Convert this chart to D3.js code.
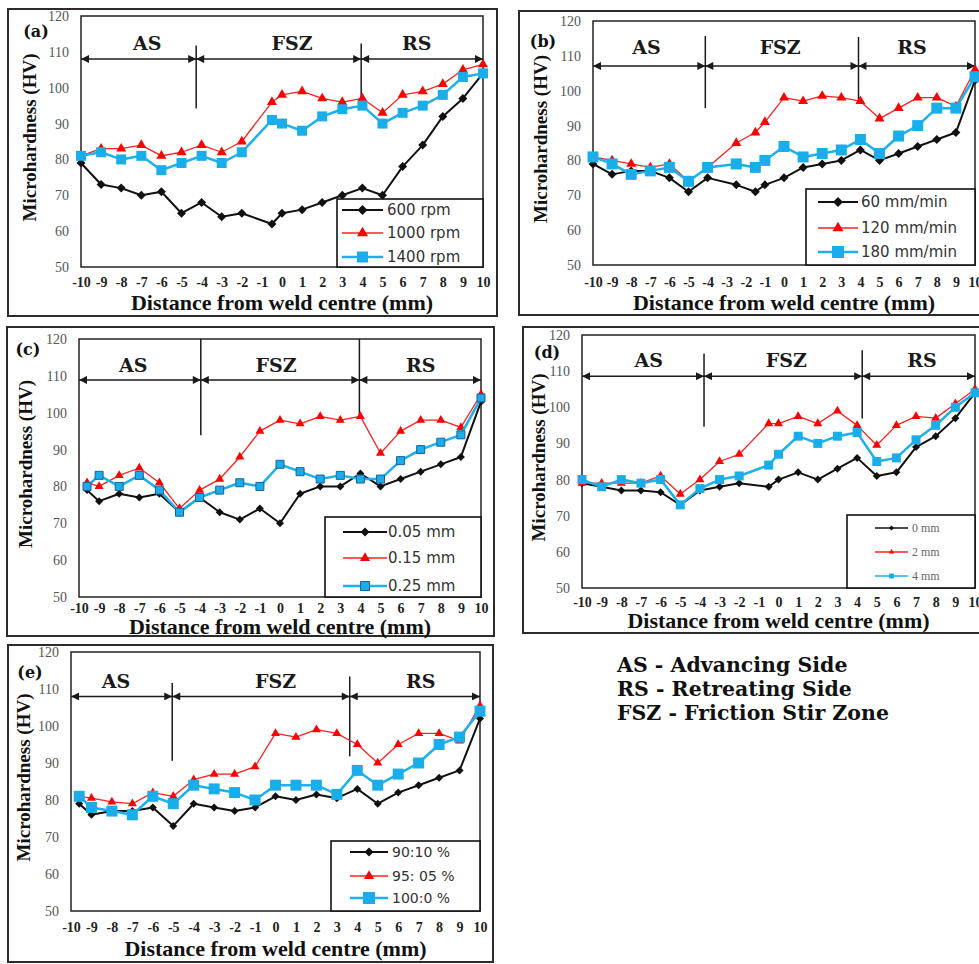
<!DOCTYPE html>
<html>
<head>
<meta charset="utf-8">
<script src="https://cdn.jsdelivr.net/npm/d3@7"></script>
<style>
  body { margin: 0; background: #fff; }
</style>
</head>
<body>
<svg id="fig" width="979" height="964"></svg>
<script>
// ---- data ----
const xTickLabels = [-10, -9, -8, -7, -6, -5, -4, -3, -2, -1, 0, 1, 2, 3, 4, 5, 6, 7, 8, 9, 10];
const yTickLabels = [50, 60, 70, 80, 90, 100, 110, 120];
const zoneNames = ['AS', 'FSZ', 'RS'];
const notes = ['AS - Advancing Side', 'RS - Retreating Side', 'FSZ - Friction Stir Zone'];

// (a) rotational speed
const xA = [-10, -9, -8, -7, -6, -5, -4, -3, -2, -0.5, 0, 1, 2, 3, 4, 5, 6, 7, 8, 9, 10];
const a600 = [79, 73, 72, 70, 71, 65, 68, 64, 65, 62, 65, 66, 68, 70, 72, 70, 78, 84, 92, 97, 104];
const a1000 = [81, 83, 83, 84, 81, 82, 84, 82, 85, 96, 98, 99, 97, 96, 97, 93, 98, 99, 101, 105, 106.5];
const a1400 = [81, 82, 80, 81, 77, 79, 81, 79, 82, 91, 90, 88, 92, 94, 95, 90, 93, 95, 98, 103, 104];

// (b) welding speed
const xB = [-10, -9, -8, -7, -6, -5, -4, -2.5, -1.5, -1, 0, 1, 2, 3, 4, 5, 6, 7, 8, 9, 10];
const b60 = [79, 76, 77, 77, 75, 71, 75, 73, 71, 73, 75, 78, 79, 80, 83, 80, 82, 84, 86, 88, 103];
const b120 = [81, 80, 79, 78, 79, 74, 78, 85, 88, 91, 98, 97, 98.5, 98, 97, 92, 95, 98, 98, 95.5, 106];
const b180 = [81, 79, 76, 77, 78, 74, 78, 79, 78, 80, 84, 81, 82, 83, 86, 82, 87, 90, 95, 95, 104];

// (c) plunge depth
const xC = [-9.6, -9, -8, -7, -6, -5, -4, -3, -2, -1, 0, 1, 2, 3, 4, 5, 6, 7, 8, 9, 10];
const c005 = [79, 76, 78, 77, 78, 73, 77, 73, 71, 74, 70, 78, 80, 80, 83.5, 80, 82, 84, 86, 88, 103];
const c015 = [81, 80, 83, 85, 81, 74, 79, 82, 88, 95, 98, 97, 99, 98, 99, 89, 95, 98, 98, 96, 105];
const c025 = [80, 83, 80, 83, 79, 73, 77, 79, 81, 80, 86, 84, 82, 83, 82, 82, 87, 90, 92, 94, 104];

// (d) tool offset
const xD = [-10, -9, -8, -7, -6, -5, -4, -3, -2, -0.5, 0, 1, 2, 3, 4, 5, 6, 7, 8, 9, 10];
const d0 = [79, 78, 77, 77, 76.5, 73, 77, 78, 79, 78, 80, 82, 80, 83, 86, 81, 82, 89, 92, 97, 104];
const d2 = [79, 79, 79, 79, 81, 76, 80, 85, 87, 95.5, 95.5, 97.5, 95.5, 99, 95, 89.5, 95, 97.5, 97, 101, 105];
const d4 = [80, 78, 80, 79, 80, 73, 77.5, 80, 81, 84, 87, 92, 90, 92, 93, 85, 86, 91, 95, 100, 104];

// (e) mixing ratio
const xE = [-9.6, -9, -8, -7, -6, -5, -4, -3, -2, -1, 0, 1, 2, 3, 4, 5, 6, 7, 8, 9, 10];
const e9010 = [79, 76, 77, 77, 78, 73, 79, 78, 77, 78, 81, 80, 81.5, 80.5, 83, 79, 82, 84, 86, 88, 102];
const e9505 = [81, 80.5, 79.5, 79, 82, 81, 85.5, 87, 87, 89, 98, 97, 99, 98, 95, 90, 95, 98, 98, 96, 105.5];
const e1000 = [81, 78, 77, 76, 81, 79, 84, 83, 82, 80, 84, 84, 84, 81.5, 88, 84, 87, 90, 95, 97, 104];

// ---- styles ----
const serif = '"Liberation Serif", "Times New Roman", serif';
const slab = '"DejaVu Serif", serif';
const sans = '"DejaVu Sans", Verdana, sans-serif';
const styles = {
  black: { line: '#111', width: 2, fill: '#111', shape: 'diamond' },
  red: { line: '#ff2020', width: 1.3, fill: '#ff0000', shape: 'triangle' },
  blue: { line: '#1cb0ee', width: 2.5, fill: '#19aeea', shape: 'square' }
};

const panels = [
  { tag: '(a)', tagPos: [36, 37], frame: [8, 9, 497, 316], plot: [81, 16, 483, 267],
    xs: xA, series: [['600 rpm', a600, 'black'], ['1000 rpm', a1000, 'red'], ['1400 rpm', a1400, 'blue']],
    zones: { arrowY: 108, div1: [-4.27, 111.8, 94.2], div2: [3.94, 112.3, 95.1], labelY: 112.3, labelX: [-6.7, 0.5, 6.7] },
    legend: { box: [337, 199, 483, 267], rows: [11, 34, 58], line: [5, 46], text: 50, font: 15, fam: sans },
    yTitleX: -52, xTitleDy: 43, tickPad: 10, size: { black: 9, red: 10, blue: 10 } },
  { tag: '(b)', tagPos: [543, 47], frame: [519, 11, 990, 315], plot: [593, 21, 975, 265],
    xs: xB, series: [['60 mm/min', b60, 'black'], ['120 mm/min', b120, 'red'], ['180 mm/min', b180, 'blue']],
    zones: { arrowY: 107.1, div1: [-4.12, 115.7, 95], div2: [3.9, 115.4, 97.1], labelY: 112.4, labelX: [-7.2, -0.2, 6.7] },
    legend: { box: [806, 189, 975, 265], rows: [13, 39, 63], line: [12, 52], text: 55, font: 15, fam: sans },
    yTitleX: -53, xTitleDy: 45, tickPad: 12, size: { black: 9, red: 10, blue: 11 } },
  { tag: '(c)', tagPos: [28, 355], frame: [7, 327, 494, 636], plot: [79, 339, 481, 597],
    xs: xC, series: [['0.05 mm', c005, 'black'], ['0.15 mm', c015, 'red'], ['0.25 mm', c025, 'blue']],
    zones: { arrowY: 108.9, div1: [-3.94, 120, 93.9], div2: [3.95, 120, 98.9], labelY: 112.9, labelX: [-7.3, -0.2, 7.0] },
    legend: { box: [325, 517, 481, 597], rows: [15, 41, 69], line: [18, 62], text: 63, font: 15, fam: sans },
    yTitleX: -54, xTitleDy: 37, tickPad: 6, size: { black: 8, red: 9, blue: 8 }, sqStroke: '#1b5f9e' },
  { tag: '(d)', tagPos: [547, 358], frame: [523, 327, 990, 633], plot: [582, 335, 975, 588],
    xs: xD, series: [['0 mm', d0, 'black'], ['2 mm', d2, 'red'], ['4 mm', d4, 'blue']],
    zones: { arrowY: 108.6, div1: [-3.79, 114.9, 94.6], div2: [4.26, 115.8, 96.9], labelY: 113, labelX: [-6.6, 0.4, 7.3] },
    legend: { box: [847, 515, 975, 588], rows: [13, 37, 61], line: [28, 61], text: 65, font: 12, fam: serif, small: true },
    yTitleX: -44, xTitleDy: 40, tickPad: 9, size: { black: 8, red: 9, blue: 9 } },
  { tag: '(e)', tagPos: [30, 678], frame: [8, 645, 493, 962], plot: [71, 652, 480, 911],
    xs: xE, series: [['90:10 %', e9010, 'black'], ['95: 05 %', e9505, 'red'], ['100:0 %', e1000, 'blue']],
    zones: { arrowY: 108, div1: [-5.05, 111.6, 90.6], div2: [3.63, 113.4, 91.8], labelY: 112.2, labelX: [-7.8, 0, 7.1] },
    legend: { box: [331, 841, 480, 911], rows: [11, 35, 57], line: [19, 57], text: 61, font: 14, fam: sans },
    yTitleX: -48, xTitleDy: 45, tickPad: 11, size: { black: 8, red: 9, blue: 11 } }
];

const svg = d3.select('#fig');

// arrow head used by the zone arrows
svg.append('defs').append('marker')
  .attr('id', 'head')
  .attr('viewBox', '0 0 10 10')
  .attr('refX', 10).attr('refY', 5)
  .attr('markerWidth', 9).attr('markerHeight', 8)
  .attr('markerUnits', 'userSpaceOnUse')
  .attr('orient', 'auto-start-reverse')
  .append('path').attr('d', 'M0,0L10,5L0,10z').attr('fill', '#1a1a1a');

function symbolPath(shape, s) {
  if (shape === 'diamond') return d3.symbol(d3.symbolSquare, s * s / 2)();
  if (shape === 'triangle') return d3.symbol(d3.symbolTriangle, Math.sqrt(3) / 4 * s * s)();
  return d3.symbol(d3.symbolSquare, s * s)();
}

function drawMarker(sel, kind, s, p) {
  const st = styles[kind];
  const m = sel.append('path')
    .attr('d', symbolPath(st.shape, s))
    .attr('fill', st.fill);
  if (st.shape === 'diamond') m.attr('transform', 'rotate(45)');
  if (st.shape === 'square' && p.sqStroke) m.attr('stroke', p.sqStroke).attr('stroke-width', 1);
  return m;
}

function drawPanel(p) {
  const g = svg.append('g');
  const [fx0, fy0, fx1, fy1] = p.frame;
  const [px0, py0, px1, py1] = p.plot;

  g.append('rect')
    .attr('x', fx0).attr('y', fy0).attr('width', fx1 - fx0).attr('height', fy1 - fy0)
    .attr('fill', '#fff').attr('stroke', '#2b2b2b').attr('stroke-width', 2);

  const x = d3.scaleLinear().domain([-10, 10]).range([px0, px1]);
  const y = d3.scaleLinear().domain([50, 120]).range([py1, py0]);

  g.append('rect')
    .attr('x', px0).attr('y', py0).attr('width', px1 - px0).attr('height', py1 - py0)
    .attr('fill', 'none').attr('stroke', '#222').attr('stroke-width', 1.5);

  // y axis
  const yAx = g.append('g')
    .attr('transform', 'translate(' + px0 + ',0)')
    .call(d3.axisLeft(y).tickValues(yTickLabels).tickSize(0).tickPadding(12));
  yAx.select('.domain').remove();
  yAx.attr('font-family', serif).attr('font-size', 14);
  yAx.selectAll('text').attr('fill', '#555');

  // x axis (plain hyphen, as in the figure)
  const xAx = g.append('g')
    .attr('transform', 'translate(0,' + py1 + ')')
    .call(d3.axisBottom(x).tickValues(xTickLabels).tickFormat(d => String(d)).tickSize(0).tickPadding(p.tickPad));
  xAx.select('.domain').remove();
  xAx.attr('font-family', serif).attr('font-size', 14).attr('font-weight', 'bold');
  xAx.selectAll('text').attr('fill', '#222');

  // axis titles
  g.append('text')
    .attr('transform', 'translate(' + (px0 + p.yTitleX) + ',' + ((py0 + py1) / 2 - 4) + ') rotate(-90)')
    .attr('text-anchor', 'middle').attr('dy', '0.35em')
    .attr('font-family', serif).attr('font-weight', 'bold').attr('font-size', 19).attr('fill', '#111')
    .text('Microhardness (HV)');
  g.append('text')
    .attr('x', (px0 + px1) / 2).attr('y', py1 + p.xTitleDy)
    .attr('text-anchor', 'middle')
    .attr('font-family', serif).attr('font-weight', 'bold').attr('font-size', 22).attr('fill', '#111')
    .text('Distance from weld centre (mm)');

  // zones: dividers, arrows, names
  const z = p.zones;
  [z.div1, z.div2].forEach(d => {
    g.append('line')
      .attr('x1', x(d[0])).attr('x2', x(d[0]))
      .attr('y1', y(d[1])).attr('y2', y(d[2]))
      .attr('stroke', '#1a1a1a').attr('stroke-width', 1.5);
  });
  const bounds = [-10, z.div1[0], z.div2[0], 10];
  zoneNames.forEach((name, i) => {
    g.append('line')
      .attr('x1', x(bounds[i])).attr('x2', x(bounds[i + 1]))
      .attr('y1', y(z.arrowY)).attr('y2', y(z.arrowY))
      .attr('stroke', '#1a1a1a').attr('stroke-width', 1.5)
      .attr('marker-start', 'url(#head)').attr('marker-end', 'url(#head)');
    g.append('text')
      .attr('x', x(z.labelX[i])).attr('y', y(z.labelY)).attr('dy', '0.35em')
      .attr('text-anchor', 'middle')
      .attr('font-family', slab).attr('font-weight', 'bold').attr('font-size', 19).attr('fill', '#1a1a1a')
      .text(name);
  });

  // series
  const line = d3.line().x(d => x(d[0])).y(d => y(d[1]));
  p.series.forEach(([name, vals, kind]) => {
    const st = styles[kind];
    const pts = p.xs.map((xv, i) => [xv, vals[i]]);
    g.append('path')
      .datum(pts)
      .attr('d', line)
      .attr('fill', 'none').attr('stroke', st.line).attr('stroke-width', st.width)
      .attr('stroke-linejoin', 'round');
    g.append('g').selectAll('g')
      .data(pts)
      .join('g')
      .attr('transform', d => 'translate(' + x(d[0]) + ',' + y(d[1]) + ')')
      .each(function () { drawMarker(d3.select(this), kind, p.size[kind], p); });
  });

  // legend
  const L = p.legend;
  const [lx0, ly0, lx1, ly1] = L.box;
  g.append('rect')
    .attr('x', lx0).attr('y', ly0).attr('width', lx1 - lx0).attr('height', ly1 - ly0)
    .attr('fill', '#fff').attr('stroke', '#111').attr('stroke-width', 1.6);
  p.series.forEach(([name, vals, kind], i) => {
    const st = styles[kind];
    const ry = ly0 + L.rows[i];
    g.append('line')
      .attr('x1', lx0 + L.line[0]).attr('x2', lx0 + L.line[1])
      .attr('y1', ry).attr('y2', ry)
      .attr('stroke', st.line).attr('stroke-width', L.small ? 1.5 : st.width);
    const mg = g.append('g').attr('transform', 'translate(' + (lx0 + (L.line[0] + L.line[1]) / 2) + ',' + ry + ')');
    drawMarker(mg, kind, L.small ? 5 : p.size[kind] + 1, p);
    g.append('text')
      .attr('x', lx0 + L.text).attr('y', ry).attr('dy', '0.35em')
      .attr('font-family', L.fam).attr('font-size', L.font)
      .attr('fill', L.small ? '#666' : '#333')
      .text(name);
  });

  // panel tag
  g.append('text')
    .attr('x', p.tagPos[0]).attr('y', p.tagPos[1])
    .attr('text-anchor', 'middle')
    .attr('font-family', slab).attr('font-weight', 'bold').attr('font-size', 16).attr('fill', '#111')
    .text(p.tag);
}

panels.forEach(drawPanel);

// key to the zone abbreviations
svg.append('g').selectAll('text')
  .data(notes)
  .join('text')
  .attr('x', 617)
  .attr('y', (d, i) => 672 + i * 24)
  .attr('font-family', slab).attr('font-weight', 'bold').attr('font-size', 20.5).attr('fill', '#111')
  .text(d => d);
</script>
</body>
</html>
